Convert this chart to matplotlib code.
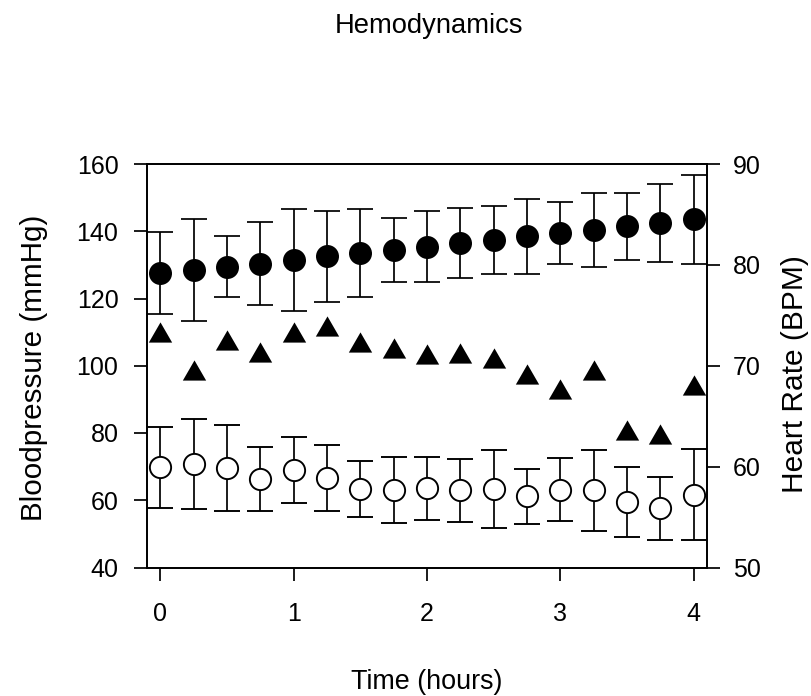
import matplotlib
matplotlib.use("Agg")
import matplotlib.pyplot as plt
from matplotlib.path import Path

plt.rcParams['font.family'] = ['Liberation Sans', 'DejaVu Sans']

time_h = [0, 0.25, 0.5, 0.75, 1.0, 1.25, 1.5, 1.75, 2.0, 2.25, 2.5, 2.75, 3.0, 3.25, 3.5, 3.75, 4.0]
systolic = [127.5, 128.4, 129.5, 130.4, 131.4, 132.5, 133.5, 134.4, 135.4, 136.5, 137.4, 138.5, 139.4, 140.5, 141.5, 142.5, 143.5]
systolic_sd = [12.2, 15.1, 9.2, 12.3, 15.2, 13.4, 13.2, 9.6, 10.6, 10.5, 10.2, 11.2, 9.2, 11.0, 10.0, 11.6, 13.2]
diastolic = [69.8, 70.8, 69.7, 66.3, 69.0, 66.7, 63.3, 63.1, 63.5, 62.9, 63.2, 61.2, 63.1, 63.0, 59.5, 57.6, 61.7]
diastolic_sd = [12.0, 13.4, 12.8, 9.6, 9.8, 9.8, 8.3, 9.9, 9.5, 9.4, 11.6, 8.2, 9.4, 12.0, 10.4, 9.4, 13.4]
heart_rate = [73.3, 69.6, 72.6, 71.4, 73.3, 73.9, 72.4, 71.8, 71.2, 71.3, 70.8, 69.2, 67.7, 69.6, 63.6, 63.2, 68.1]

x_ticks = [0, 1, 2, 3, 4]
left_ticks = [40, 60, 80, 100, 120, 140, 160]
right_ticks = [50, 60, 70, 80, 90]

W, H = 811, 696
fig = plt.figure(figsize=(W / 100, H / 100), dpi=100)
ax = fig.add_axes([146.5 / W, 1 - 567.5 / H, (706.7 - 146.5) / W, (567.5 - 164) / H])
ax2 = ax.twinx()

lw = 1.25
cap = 9.6
ms = 15.3

ax.errorbar(time_h, systolic, yerr=systolic_sd, fmt='o', color='black',
            markerfacecolor='black', markeredgecolor='black', markersize=ms,
            markeredgewidth=lw, elinewidth=lw, capsize=cap, capthick=lw, zorder=3)
ax.errorbar(time_h, diastolic, yerr=diastolic_sd, fmt='o', color='black',
            markerfacecolor='white', markeredgecolor='black', markersize=ms,
            markeredgewidth=lw * 1.1, elinewidth=lw, capsize=cap, capthick=lw, zorder=3)

tri = Path([(-1, -0.866), (1, -0.866), (0, 0.866), (-1, -0.866)],
           [Path.MOVETO, Path.LINETO, Path.LINETO, Path.CLOSEPOLY])
ax2.plot(time_h, heart_rate, linestyle='none', marker=tri, markersize=16.8,
         color='black', markeredgewidth=0)

ax.set_xlim(-0.105, 4.097)
ax.set_ylim(40, 160)
ax2.set_ylim(50, 90)
ax.set_xticks(x_ticks)
ax.set_yticks(left_ticks)
ax2.set_yticks(right_ticks)

for a in (ax, ax2):
    for s in a.spines.values():
        s.set_linewidth(lw)
ax.tick_params(axis='both', direction='out', length=9.4, width=lw, labelsize=18)
ax.tick_params(axis='y', pad=10.8)
ax.tick_params(axis='x', pad=15.5)
ax2.tick_params(axis='y', direction='out', length=9.4, width=lw, labelsize=18, pad=9.4)

fig.text(429 / W, 1 - 33 / H, 'Hemodynamics', ha='center', va='baseline', fontsize=19.7)
fig.text(427 / W, 1 - 689 / H, 'Time (hours)', ha='center', va='baseline', fontsize=19.4)
fig.text(34 / W, 1 - 368 / H, 'Bloodpressure (mmHg)', ha='center', va='center',
         rotation=90, fontsize=21.3)
fig.text(795 / W, 1 - 374 / H, 'Heart Rate (BPM)', ha='center', va='center',
         rotation=90, fontsize=21.5)

fig.savefig('out.png', dpi=100)
